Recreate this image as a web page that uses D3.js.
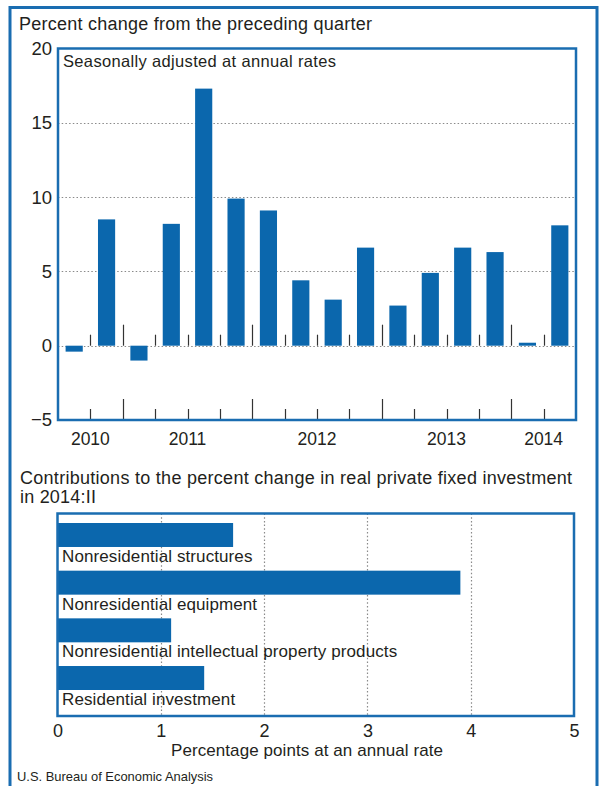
<!DOCTYPE html>
<html>
<head>
<meta charset="utf-8">
<script src="https://cdn.jsdelivr.net/npm/d3@7"></script>
<style>
  html, body { margin: 0; padding: 0; background: #fff; }
  svg text { font-family: "Liberation Sans", Arial, sans-serif; fill: #231f20; }
</style>
</head>
<body>
<svg id="chart" width="600" height="786"></svg>
<script>
// ---- Data ----
const quarters = ["2010Q3","2010Q4","2011Q1","2011Q2","2011Q3","2011Q4","2012Q1","2012Q2","2012Q3","2012Q4","2013Q1","2013Q2","2013Q3","2013Q4","2014Q1","2014Q2"];
const pctChange = [-0.4, 8.5, -1.0, 8.2, 17.3, 9.9, 9.1, 4.4, 3.1, 6.6, 2.7, 4.9, 6.6, 6.3, 0.2, 8.1];
const years = ["2010","2011","2012","2013","2014"];
const yTicks = [-5, 0, 5, 10, 15, 20];

const components = ["Nonresidential structures","Nonresidential equipment","Nonresidential intellectual property products","Residential investment"];
const contributions = [1.70, 3.90, 1.10, 1.42];
const xTicks = [0, 1, 2, 3, 4, 5];

const title1 = "Percent change from the preceding quarter";
const subtitle1 = "Seasonally adjusted at annual rates";
const title2a = "Contributions to the percent change in real private fixed investment";
const title2b = "in 2014:II";
const xLabel2 = "Percentage points at an annual rate";
const source = "U.S. Bureau of Economic Analysis";

// ---- Styles ----
const BAR = "#0b67ad";
const FRAME = "#1a6db1";
const GRID = "#8a8a8a";

const svg = d3.select("#chart");

// outer frame (open at bottom)
svg.append("path")
  .attr("d", "M10,790 L10,7.5 L597,7.5 L597,790")
  .attr("fill", "none").attr("stroke", FRAME).attr("stroke-width", 3);

svg.append("text").attr("x", 19).attr("y", 30).attr("font-size", 18)
  .attr("textLength", 353).attr("lengthAdjust", "spacing").text(title1);

// ---- Top chart ----
const T = {left: 58, right: 576, top: 48.5, bottom: 420};
const x1 = d3.scaleBand().domain(quarters).range([T.left, T.right]).paddingInner(0.47).paddingOuter(0.235);
const y1 = d3.scaleLinear().domain([-5, 20]).range([T.bottom, T.top]);

// gridlines (dotted) at 0,5,10,15
const g1 = svg.append("g");
g1.selectAll("line.grid").data(yTicks.filter(d => d > -5 && d < 20)).join("line")
  .attr("x1", T.left).attr("x2", T.right)
  .attr("y1", d => Math.round(y1(d)) + 0.5).attr("y2", d => Math.round(y1(d)) + 0.5)
  .attr("stroke", GRID).attr("stroke-width", 1.2).attr("stroke-dasharray", "1.5,2.2");

// bars
g1.selectAll("rect.bar").data(pctChange).join("rect")
  .attr("x", (d, i) => x1(quarters[i]))
  .attr("width", x1.bandwidth())
  .attr("y", d => y1(Math.max(0, d)))
  .attr("height", d => Math.abs(y1(d) - y1(0)))
  .attr("fill", BAR);

// quarter boundary ticks
const step = x1.step();
const boundaries = d3.range(1, quarters.length).map(i => ({i, x: T.left + i * (T.right - T.left) / quarters.length, tall: quarters[i].endsWith("Q1")}));
[y1(0), T.bottom].forEach(base => {
  g1.selectAll(null).data(boundaries).join("line")
    .attr("x1", d => Math.round(d.x) + 0.5).attr("x2", d => Math.round(d.x) + 0.5)
    .attr("y1", base).attr("y2", d => base - (d.tall ? 21 : 11))
    .attr("stroke", "#333").attr("stroke-width", 1.2);
});

// y axis labels
const yAxis = d3.axisLeft(y1).tickValues(yTicks).tickSize(0).tickPadding(6)
  .tickFormat(d => d < 0 ? "\u2212" + Math.abs(d) : d);
svg.append("g").attr("transform", `translate(${T.left},0)`).call(yAxis)
  .call(g => g.select(".domain").remove())
  .call(g => g.selectAll("text").attr("font-size", 18.5).attr("font-family", null).attr("fill", "#231f20"));

// year labels
const yearCenters = years.map(yr => {
  const idx = quarters.map((q, i) => q.startsWith(yr) ? i : -1).filter(i => i >= 0);
  const a = x1(quarters[idx[0]]) - x1.paddingInner() * step / 2;
  const b = x1(quarters[idx[idx.length - 1]]) + x1.bandwidth() + x1.paddingInner() * step / 2;
  return {yr, cx: (a + b) / 2};
});
svg.selectAll("text.year").data(yearCenters).join("text")
  .attr("x", d => d.cx).attr("y", 445).attr("text-anchor", "middle").attr("font-size", 17.5).text(d => d.yr);

// frame
svg.append("rect").attr("x", T.left).attr("y", T.top).attr("width", T.right - T.left).attr("height", T.bottom - T.top)
  .attr("fill", "none").attr("stroke", FRAME).attr("stroke-width", 2.5);
svg.append("text").attr("x", 63).attr("y", 67).attr("font-size", 16.5)
  .attr("textLength", 273).attr("lengthAdjust", "spacing").text(subtitle1);

// ---- Bottom chart ----
svg.append("text").attr("x", 20).attr("y", 484).attr("font-size", 18)
  .attr("textLength", 552).attr("lengthAdjust", "spacing").text(title2a);
svg.append("text").attr("x", 20).attr("y", 503).attr("font-size", 18)
  .attr("textLength", 76).attr("lengthAdjust", "spacing").text(title2b);

const B = {left: 57.5, right: 574, top: 513.5, bottom: 716};
const x2 = d3.scaleLinear().domain([0, 5]).range([B.left, B.right]);
const y2 = d3.scaleBand().domain(components).range([523, 690]).paddingInner(0.497).paddingOuter(0);

const g2 = svg.append("g");
g2.selectAll("line.vgrid").data(xTicks.filter(d => d > 0 && d < 5)).join("line")
  .attr("x1", d => Math.round(x2(d)) + 0.5).attr("x2", d => Math.round(x2(d)) + 0.5)
  .attr("y1", B.top).attr("y2", B.bottom)
  .attr("stroke", GRID).attr("stroke-width", 1.2).attr("stroke-dasharray", "1.5,2.2");

g2.selectAll("rect.hbar").data(contributions).join("rect")
  .attr("x", x2(0)).attr("y", (d, i) => y2(components[i]))
  .attr("width", d => x2(d) - x2(0)).attr("height", y2.bandwidth())
  .attr("fill", BAR);

g2.selectAll("text.lab").data(components).join("text")
  .attr("x", 62).attr("y", d => y2(d) + y2.bandwidth() + 15)
  .attr("font-size", 17).attr("letter-spacing", 0.1).text(d => d);

svg.append("rect").attr("x", B.left).attr("y", B.top).attr("width", B.right - B.left).attr("height", B.bottom - B.top)
  .attr("fill", "none").attr("stroke", FRAME).attr("stroke-width", 2.5);

const xAxis2 = d3.axisBottom(x2).tickValues(xTicks).tickSize(0).tickPadding(8).tickFormat(d3.format("d"));
svg.append("g").attr("transform", `translate(0,${B.bottom})`).call(xAxis2)
  .call(g => g.select(".domain").remove())
  .call(g => g.selectAll("text").attr("font-size", 18).attr("font-family", null).attr("fill", "#231f20"));

svg.append("text").attr("x", 307).attr("y", 756).attr("text-anchor", "middle").attr("font-size", 17)
  .attr("textLength", 272).attr("lengthAdjust", "spacing").text(xLabel2);

svg.append("text").attr("x", 17).attr("y", 781).attr("font-size", 13)
  .attr("textLength", 196).attr("lengthAdjust", "spacingAndGlyphs")
  .attr("font-family", "'Liberation Sans Narrow', 'Liberation Sans', Arial, sans-serif")
  .text(source);
</script>
</body>
</html>
